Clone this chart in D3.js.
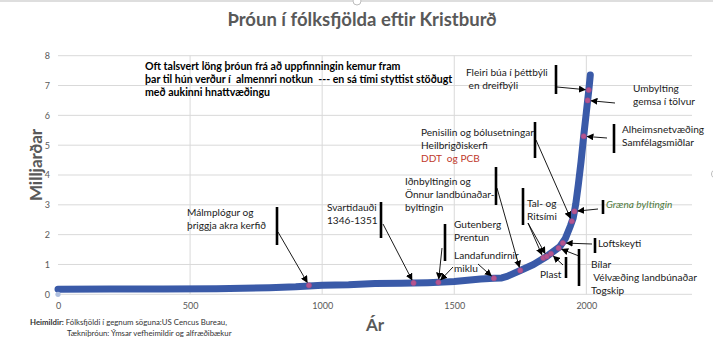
<!DOCTYPE html>
<html>
<head>
<meta charset="utf-8">
<script src="https://cdn.jsdelivr.net/npm/d3@7"></script>
<style>
  html, body { margin: 0; padding: 0; background: #fff; }
  svg { display: block; font-family: Lato, "Open Sans", sans-serif; }
</style>
</head>
<body>
<svg id="chart" width="713" height="346"></svg>
<script>
// World population since year 0, billions
const years      = [0, 200, 400, 600, 700, 800, 900, 1000, 1100, 1200, 1300, 1346, 1400, 1440, 1500, 1550, 1600, 1650, 1680, 1700, 1750, 1800, 1850, 1900, 1920, 1940, 1950, 1955, 1960, 1970, 1980, 1990, 2000, 2010, 2015];
const population = [0.17, 0.18, 0.18, 0.19, 0.2, 0.22, 0.25, 0.3, 0.32, 0.36, 0.37, 0.38, 0.39, 0.4, 0.43, 0.47, 0.51, 0.54, 0.55, 0.6, 0.8, 1.0, 1.27, 1.6, 1.86, 2.3, 2.55, 2.78, 3.03, 3.7, 4.45, 5.3, 6.1, 6.9, 7.35];

// Highlighted events on the curve
const eventYears  = [950, 1346, 1440, 1650, 1750, 1837, 1850, 1866, 1895, 1911, 1945, 1955, 1990, 2005, 2009];
const eventValues = [0.3, 0.38, 0.4, 0.54, 0.8, 1.22, 1.27, 1.36, 1.55, 1.72, 2.45, 2.78, 5.3, 6.5, 6.85];

const xTicks = [0, 500, 1000, 1500, 2000];
const yTicks = [0, 1, 2, 3, 4, 5, 6, 7, 8];

const svg = d3.select("#chart");
const x = d3.scaleLinear().domain([0, 2400]).range([58, 692]);
const y = d3.scaleLinear().domain([0, 8]).range([294.3, 55.7]);
const grey = "#595959";

// chart frame (top edge and selection handles)
svg.append("line").attr("x1", 0).attr("x2", 713).attr("y1", 1).attr("y2", 1)
  .attr("stroke", "#bdbdbd").attr("stroke-width", 1);
svg.append("circle").attr("cx", 357).attr("cy", 1).attr("r", 4)
  .attr("fill", "#fff").attr("stroke", "#bdbdbd");
svg.append("circle").attr("cx", 716).attr("cy", 174).attr("r", 4.5)
  .attr("fill", "#fff").attr("stroke", "#bdbdbd");

// title
svg.append("text").attr("x", 362).attr("y", 26).attr("text-anchor", "middle")
  .attr("font-size", 18.5).attr("font-weight", "bold").attr("fill", grey)
  .text("Þróun í fólksfjölda eftir Kristburð");

// gridlines
svg.append("g").selectAll("line").data(yTicks).join("line")
  .attr("x1", x(0)).attr("x2", x(2400))
  .attr("y1", d => y(d)).attr("y2", d => y(d))
  .attr("stroke", "#d9d9d9").attr("stroke-width", 1);
svg.append("g").selectAll("line").data(xTicks.filter(d => d > 0)).join("line")
  .attr("x1", d => x(d)).attr("x2", d => x(d))
  .attr("y1", y(0)).attr("y2", y(8))
  .attr("stroke", "#d9d9d9").attr("stroke-width", 1);

// axes
const yAxis = svg.append("g").attr("transform", `translate(${x(0)},0)`)
  .call(d3.axisLeft(y).tickValues(yTicks).tickSize(0).tickPadding(8).tickFormat(d3.format("d")));
const xAxis = svg.append("g").attr("transform", `translate(0,${y(0)})`)
  .call(d3.axisBottom(x).tickValues(xTicks).tickSize(0).tickPadding(8).tickFormat(d3.format("d")));
[yAxis, xAxis].forEach(a => {
  a.select(".domain").remove();
  a.selectAll("text").attr("fill", grey).attr("font-size", 9)
    .attr("font-family", "Lato, sans-serif");
});

// axis titles
svg.append("text").attr("transform", "translate(42,165) rotate(-90)")
  .attr("text-anchor", "middle").attr("font-size", 17).attr("font-weight", "bold")
  .attr("fill", grey).text("Milljarðar");
svg.append("text").attr("x", 375).attr("y", 331).attr("text-anchor", "middle")
  .attr("font-size", 17).attr("font-weight", "bold").attr("fill", grey).text("Ár");

// population curve
const line = d3.line().x((d, i) => x(years[i])).y(d => y(d));
svg.append("path").datum(population).attr("d", line)
  .attr("fill", "none").attr("stroke", "#3a5aa8").attr("stroke-width", 7)
  .attr("stroke-linejoin", "round").attr("stroke-linecap", "round");

// isolated zero point at year 0
svg.append("circle").attr("cx", x(0)).attr("cy", y(0)).attr("r", 2.6)
  .attr("fill", "#aebfdf");

// event markers
svg.append("g").selectAll("circle").data(eventYears).join("circle")
  .attr("cx", d => x(d)).attr("cy", (d, i) => y(eventValues[i])).attr("r", 2.6)
  .attr("fill", "#b5558f").attr("stroke", "#a04a88").attr("stroke-width", 0.6);

// arrowhead
svg.append("defs").append("marker").attr("id", "arrow")
  .attr("viewBox", "0 0 10 10").attr("refX", 9).attr("refY", 5)
  .attr("markerWidth", 7).attr("markerHeight", 7).attr("markerUnits", "userSpaceOnUse")
  .attr("orient", "auto")
  .append("path").attr("d", "M0,0 L10,5 L0,10 Z").attr("fill", "#000");

// annotations: text lines, optional bar, arrows pointing to event markers (by index)
const notes = [
  { x: 187, y: 212, lines: ["Málmplógur og", "þriggja akra kerfið"], bar: [277, 207, 245], arrows: [[278, 232, 0]] },
  { x: 327, y: 207, lines: ["Svartidauði", "1346-1351"], bar: [381, 202, 238], arrows: [[383, 224, 1]] },
  { x: 454, y: 224, lines: ["Gutenberg", "Prentun"], bar: [445, 224, 261], arrows: [[442, 248, 2]] },
  { x: 454, y: 255, lines: ["Landafundirnir", "miklu"], arrows: [[453, 267, 2], [478, 264, 3]] },
  { x: 405, y: 181, lines: ["Iðnbyltingin og", "Önnur landbúnaðar-", "byltingin"], bar: [496, 167, 205], arrows: [[497, 188, 4]] },
  { x: 421, y: 132, lines: ["Penisilin og bólusetningar", "Heilbrigðiskerfi", "DDT  og PCB"], colors: [null, null, "#c0392b"], bar: [535, 122, 158], arrows: [[536, 140, 10]] },
  { x: 527, y: 203, lines: ["Tal- og", "Ritsími"], bar: [523, 188, 225], arrows: [[528, 223, 5], [528, 223, 6]] },
  { x: 540, y: 274, lines: ["Plast"], bar: [566, 257, 278], arrows: [[563, 265, 7]] },
  { x: 598, y: 243, lines: ["Loftskeyti"], bar: [595, 238, 253], arrows: [[592, 244, 9]] },
  { x: 591, y: 264, lines: ["Bílar", " Vélvæðing landbúnaðar", "Togskip"], bar: [579, 249, 286], arrows: [[579, 256, 8]] },
  { x: 606, y: 204, lines: ["Græna byltingin"], italic: true, colors: ["#4e7a3c"], bar: [603, 200, 214], arrows: [[598, 209, 11]] },
  { x: 622, y: 129, lines: ["Alheimsnetvæðing", "Samfélagsmiðlar"], bar: [614, 124, 153], arrows: [[607, 138, 12]] },
  { x: 633, y: 88, lines: ["Umbylting", "gemsa í tölvur"], arrows: [[615, 103, 13]] },
  { x: 466, y: 72, lines: ["Fleiri búa í þéttbýli", " en dreifbýli"], bar: [556, 65, 94], arrows: [[557, 87, 14]] }
];

const ann = svg.append("g");
notes.forEach(n => {
  const t = ann.append("text").attr("font-size", 10.1).attr("fill", "#1a1a1a")
    .attr("font-style", n.italic ? "italic" : null).attr("xml:space", "preserve");
  n.lines.forEach((s, i) => {
    t.append("tspan").attr("x", n.x).attr("y", n.y + i * 13.3 + 3.7)
      .attr("fill", n.colors && n.colors[i] ? n.colors[i] : null).text(s);
  });
  if (n.bar) {
    ann.append("line").attr("x1", n.bar[0]).attr("x2", n.bar[0])
      .attr("y1", n.bar[1]).attr("y2", n.bar[2])
      .attr("stroke", "#000").attr("stroke-width", 2.6);
  }
  n.arrows.forEach(a => {
    const tx = x(eventYears[a[2]]), ty = y(eventValues[a[2]]);
    const dx = tx - a[0], dy = ty - a[1], len = Math.hypot(dx, dy);
    const k = (len - 3.5) / len;
    ann.append("line").attr("x1", a[0]).attr("y1", a[1])
      .attr("x2", a[0] + dx * k).attr("y2", a[1] + dy * k)
      .attr("stroke", "#000").attr("stroke-width", 0.9)
      .attr("marker-end", "url(#arrow)");
  });
});

// headline note
const head = svg.append("text").attr("font-size", 10.6).attr("font-weight", "bold")
  .attr("fill", "#000").attr("xml:space", "preserve");
["Oft talsvert löng þróun frá að uppfinningin kemur fram",
 "þar til hún verður í  almennri notkun  --- en sá tími styttist stöðugt",
 "með aukinni hnattvæðingu"].forEach((s, i) => {
  head.append("tspan").attr("x", 145).attr("y", 70 + i * 13).text(s);
});

// sources
const src = svg.append("text").attr("font-size", 7.8).attr("fill", "#333");
src.append("tspan").attr("x", 30).attr("y", 325).attr("font-weight", "bold").text("Heimildir: ");
src.append("tspan").text("Fólksfjöldi í gegnum söguna:US Cencus Bureau,");
svg.append("text").attr("font-size", 7.8).attr("fill", "#333")
  .attr("x", 67).attr("y", 336).text("Tækniþróun: Ýmsar vefheimildir og alfræðibækur");
</script>
</body>
</html>
